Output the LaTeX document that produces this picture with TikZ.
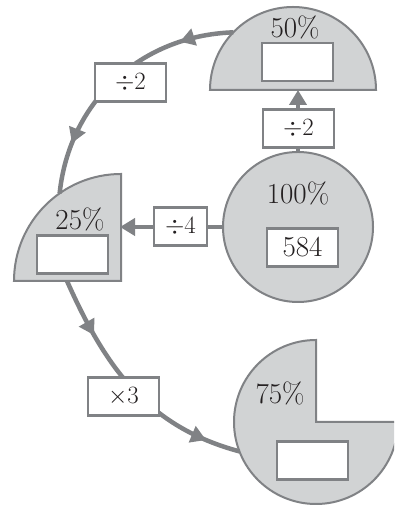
\documentclass[tikz,border=0pt]{standalone}
\usetikzlibrary{arrows.meta,decorations.markings,calc}
\definecolor{shapefill}{HTML}{D1D3D4}
\definecolor{edgegray}{HTML}{808285}
\definecolor{inkblack}{HTML}{231F20}
\tikzset{
  part/.style={draw=edgegray, line width=2pt, fill=shapefill},
  valbox/.style={draw=edgegray, line width=2.6pt, fill=white, minimum width=71pt, minimum height=38pt, inner sep=0pt, text=inkblack},
  opbox/.style={valbox, font=\fontsize{29}{32}\selectfont},
  pct/.style={text=inkblack, inner sep=0pt, font=\fontsize{29}{32}\selectfont},
  flow/.style={draw=edgegray, line width=4.5pt},
  tip/.style={-{Triangle[length=15pt,width=17pt]}},
  midtip/.style={postaction={decorate, decoration={markings,
      mark=at position #1 with {\arrow{Triangle[length=15pt,width=17pt]}}}}}
}
\begin{document}
\begin{tikzpicture}[x=1pt,y=1pt]
\clip (0,0) rectangle (394,505);
\fill[white] (0,0) rectangle (394,505);

% centres of the four fraction shapes
\coordinate (full)  at (298,278);
\coordinate (half)  at (293,415);
\coordinate (quart) at (121,224);
\coordinate (three) at (316,83);

% shapes
\draw[part] (full) circle[radius=75];
\draw[part] ($(half)+(-83,0)$) arc[start angle=180,end angle=0,radius=83] -- cycle;
\draw[part] (quart) -- ($(quart)+(-107,0)$) arc[start angle=180,end angle=90,radius=107] -- cycle;
\draw[part] (three) -- ($(three)+(0,82)$) arc[start angle=90,end angle=360,radius=82] -- cycle;

% attachment points of the connectors
\coordinate (fullN)  at ($(full)+(0,75)$);
\coordinate (fullW)  at ($(full)+(-75,0)$);
\coordinate (halfS)  at (298,415);
\coordinate (halfW)  at ($(half)+(136:83)$);
\coordinate (quartE) at (120,278);
\coordinate (quartN) at ($(quart)+(125:107)$);
\coordinate (quartS) at (67,224);
\coordinate (threeW) at ($(three)+(201:82)$);

% connectors
\draw[flow,tip] (fullN) -- (halfS);
\draw[flow,tip] (fullW) -- (quartE);
\draw[flow,midtip=0.21,midtip=0.80] (halfW) to[out=182,in=84] (quartN);
\draw[flow,midtip=0.24,midtip=0.86] (quartS) to[out=-66,in=165] (threeW);

% operation labels
\node[opbox] (opA) at (298.5,376.5) {$\div 2$};
\node[opbox, minimum width=53pt] (opB) at (180.5,278.5) {$\div 4$};
\node[opbox] (opC) at (130.5,422.5) {$\div 2$};
\node[opbox] (opD) at (123.5,108.5) {$\times 3$};

% percentages and value boxes
\node[pct] (pFull)  at (298,312) {100\%};
\node[valbox, font=\fontsize{29}{32}\selectfont] (vFull) at (302.5,257.5) {584};
\node[pct] (pHalf)  at (295,478) {50\%};
\node[valbox] (vHalf) at (297.5,443) {};
\node[pct] (pQuart) at (80,286) {25\%};
\node[valbox] (vQuart) at (72.5,250.5) {};
\node[pct] (pThree) at (280,112) {75\%};
\node[valbox] (vThree) at (312.5,44.5) {};
\end{tikzpicture}
\end{document}
